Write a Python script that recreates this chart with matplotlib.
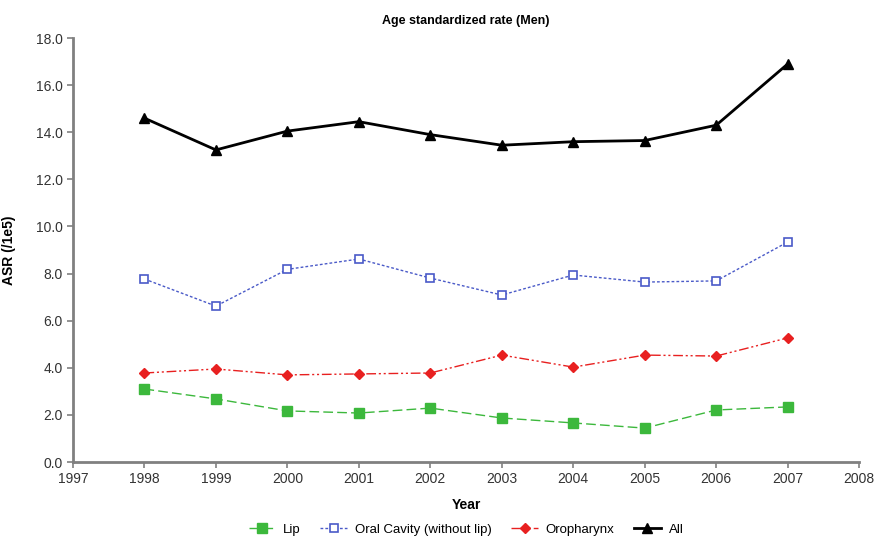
import matplotlib
matplotlib.use("Agg")
import matplotlib.pyplot as plt

plt.rcParams['font.family'] = ['Liberation Sans', 'DejaVu Sans']

years = [1998, 1999, 2000, 2001, 2002, 2003, 2004, 2005, 2006, 2007]
lip = [3.10, 2.68, 2.17, 2.08, 2.29, 1.87, 1.66, 1.44, 2.21, 2.34]
oral_cavity = [7.77, 6.62, 8.18, 8.62, 7.81, 7.09, 7.94, 7.64, 7.69, 9.34]
oropharynx = [3.78, 3.95, 3.70, 3.74, 3.78, 4.54, 4.03, 4.54, 4.50, 5.27]
all_sites = [14.6, 13.25, 14.05, 14.45, 13.9, 13.45, 13.6, 13.65, 14.3, 16.9]

GRAY = "#808080"

fig = plt.figure(figsize=(8.74, 5.36), dpi=100)
ax = fig.add_axes([0.0835, 0.138, 0.8995, 0.791])

ax.plot(years, lip, color="#3cb83c", linestyle=(0, (7, 3)), linewidth=1.0,
        marker="s", markersize=7, markerfacecolor="#3cb83c", markeredgecolor="#3cb83c",
        label="Lip")
ax.plot(years, oral_cavity, color="#4a5ac8", linestyle=(0, (2, 1.5)), linewidth=1.0,
        marker="s", markersize=6, markerfacecolor="white", markeredgecolor="#4a5ac8",
        markeredgewidth=1.2, label="Oral Cavity (without lip)")
ax.plot(years, oropharynx, color="#e82020", linestyle=(0, (7, 2, 1.5, 2, 1.5, 2)),
        linewidth=1.0, marker="D", markersize=5.5, markerfacecolor="#e82020",
        markeredgecolor="#e82020", label="Oropharynx")
ax.plot(years, all_sites, color="black", linestyle="-", linewidth=2.0,
        marker="^", markersize=7, label="All")

ax.set_xlim(1997, 2008)
ax.set_ylim(0, 18)
ax.set_xticks(range(1997, 2009))
ax.set_yticks([0, 2, 4, 6, 8, 10, 12, 14, 16, 18])
ax.set_yticklabels([f"{v:.1f}" for v in ax.get_yticks()])

for side in ("top", "right"):
    ax.spines[side].set_visible(False)
for side in ("left", "bottom"):
    ax.spines[side].set_color(GRAY)
    ax.spines[side].set_linewidth(2.0)
ax.tick_params(axis="both", direction="out", length=4, width=1.2, color=GRAY,
               labelsize=10, labelcolor="#333333")

ax.set_title("Age standardized rate (Men)", fontsize=9, fontweight="bold", pad=10)
ax.set_xlabel("Year", fontsize=10, fontweight="bold", labelpad=8)
ax.set_ylabel("ASR (/1e5)", fontsize=10, fontweight="bold", labelpad=14)

ax.legend(loc="center", bbox_to_anchor=(0.5, -0.16), ncol=4, frameon=False,
          fontsize=9.5, handlelength=2.0, columnspacing=1.5, handletextpad=0.6)

fig.savefig("out.png", dpi=100)
